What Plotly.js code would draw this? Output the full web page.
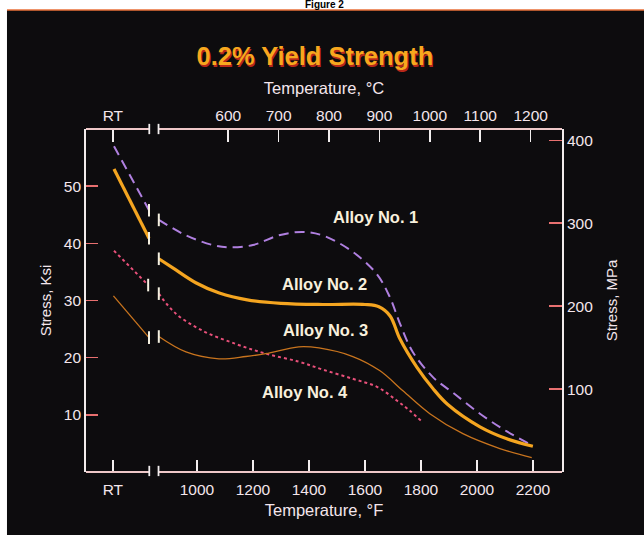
<!DOCTYPE html>
<html>
<head>
<meta charset="utf-8">
<script src="https://cdn.plot.ly/plotly-3.0.1.min.js"></script>
<style>html,body{margin:0;padding:0;background:#fff;}#chart{width:644px;height:535px;}</style>
</head>
<body>
<div id="chart"></div>
<script>
// ---- Data (temperature in °F, RT plotted at the "RT" tick; null = axis break) ----
const alloyNames = ["Alloy No. 1", "Alloy No. 2", "Alloy No. 3", "Alloy No. 4"];

const alloy1TempF = [704, 829, null, 864, 961, 1057, 1114, 1200, 1293, 1379, 1454, 1557, 1643, 1689, 1725, 1771, 1843, 1914, 2011, 2107, 2200];
const alloy1Ksi   = [57.0, 45.8, null, 44.1, 41.4, 39.7, 39.3, 39.7, 41.4, 42.0, 41.3, 38.5, 34.6, 30.6, 26.0, 21.0, 16.6, 13.9, 10.2, 7.1, 4.6];

const alloy2TempF = [704, 829, null, 864, 914, 996, 1080, 1180, 1300, 1450, 1600, 1650, 1690, 1725, 1786, 1843, 1896, 2011, 2107, 2200];
const alloy2Ksi   = [53.0, 40.9, null, 37.3, 35.7, 33.1, 31.3, 30.1, 29.5, 29.3, 29.3, 28.9, 27.3, 23.3, 18.3, 14.6, 11.8, 7.9, 5.8, 4.5];

const alloy3TempF = [704, 826, null, 864, 925, 1021, 1139, 1246, 1364, 1450, 1557, 1643, 1714, 1761, 1804];
const alloy3Ksi   = [38.7, 32.7, null, 31.2, 27.7, 24.7, 22.4, 20.7, 19.3, 17.9, 16.3, 14.9, 12.5, 10.7, 8.8];

const alloy4TempF = [702, 829, null, 864, 961, 1079, 1175, 1246, 1364, 1436, 1557, 1654, 1736, 1832, 1950, 2082, 2196];
const alloy4Ksi   = [30.8, 23.5, null, 23.7, 21.0, 19.8, 20.2, 20.7, 21.9, 21.7, 20.2, 17.7, 14.2, 10.2, 6.7, 4.1, 2.5];

// label anchor positions (°F, ksi)
const labelTempF = [1639, 1454, 1461, 1386];
const labelKsi   = [44.6, 32.9, 24.9, 14.0];

// ---- Axis ticks ----
const rtF = 700;
const fTickVals = [rtF, 1000, 1200, 1400, 1600, 1800, 2000, 2200];
const fTickText = ["RT", "1000", "1200", "1400", "1600", "1800", "2000", "2200"];
const cTickNums = [600, 700, 800, 900, 1000, 1100, 1200];
const ksiTicks = [10, 20, 30, 40, 50];
const mpaTicks = [100, 200, 300, 400];
const breakF = [830, 863];

const fRange = [604, 2304];
const ksiRange = [0, 60];
const toC = f => (f - 32) / 1.8;
const toMPa = k => k * 6.89476;

const cTickVals = [toC(rtF)].concat(cTickNums);
const cTickText = ["RT"].concat(cTickNums.map(String));

const styles = [
  {color: "#b080e0", width: 2, dash: "10px,6px"},
  {color: "#f4a520", width: 3.2, dash: "solid"},
  {color: "#e8507a", width: 2, dash: "dot"},
  {color: "#c8741e", width: 1.3, dash: "solid"}
];

const xs = [alloy1TempF, alloy2TempF, alloy3TempF, alloy4TempF];
const ys = [alloy1Ksi, alloy2Ksi, alloy3Ksi, alloy4Ksi];

const breakW = x => x.map((v, i) => (v !== null && (x[i + 1] === null || x[i - 1] === null)) ? 2 : 0);

const traces = xs.map((x, k) => ({
  type: "scatter",
  mode: "lines+markers",
  name: alloyNames[k],
  x: x, y: ys[k],
  connectgaps: false,
  line: {color: styles[k].color, width: styles[k].width, dash: styles[k].dash, shape: "spline", smoothing: 1},
  marker: {symbol: "line-ns", size: 9, color: "#f4f0e0",
           line: {color: "#f4f0e0", width: breakW(x)}},
  hoverinfo: "skip",
  showlegend: false
}));

// invisible trace binding the °C / MPa axes (same data, converted units)
traces.push({
  type: "scatter", mode: "lines",
  x: alloy1TempF.map(v => v === null ? null : toC(v)),
  y: alloy1Ksi.map(v => v === null ? null : toMPa(v)),
  xaxis: "x2", yaxis: "y2",
  line: {width: 0, color: "rgba(0,0,0,0)"},
  opacity: 0, hoverinfo: "skip", showlegend: false
});

const fam = "Liberation Sans, Arial, sans-serif";
const tickFont = {family: fam, size: 15.5, color: "#f4e6ec"};
const titleFont = {family: fam, size: 16.5, color: "#f4e6ec"};
const axLineColor = "#eec8c8";
const tickColor = "#f2eeee";

const annotations = alloyNames.map((n, k) => ({
  x: labelTempF[k], y: labelKsi[k], xref: "x", yref: "y",
  text: n, showarrow: false,
  font: {family: fam, size: 16.5, color: "#f8f0dc", weight: "bold"}
}));
annotations.push({
  xref: "paper", yref: "paper", x: 0.5, y: 1.343, xanchor: "center", yanchor: "bottom",
  text: "Figure 2", showarrow: false, borderpad: 0,
  font: {family: fam, size: 10, color: "#000", weight: "bold"}
});

const shapes = [
  // black panel
  {type: "rect", xref: "paper", yref: "paper", x0: -0.166, x1: 1.25, y0: -0.25, y1: 1.347,
   fillcolor: "#0d0c0e", line: {width: 0}, layer: "below"},
  {type: "line", xref: "paper", yref: "paper", x0: -0.166, x1: 1.25, y0: 1.347, y1: 1.347,
   line: {color: "#e8703a", width: 1.5}, layer: "below"},
  // broken x axis lines (bottom and top)
  {type: "line", xref: "x", yref: "paper", x0: fRange[0], x1: breakF[0], y0: 0, y1: 0, line: {color: axLineColor, width: 1.8}},
  {type: "line", xref: "x", yref: "paper", x0: breakF[1], x1: fRange[1], y0: 0, y1: 0, line: {color: axLineColor, width: 1.8}},
  {type: "line", xref: "x", yref: "paper", x0: fRange[0], x1: breakF[0], y0: 1, y1: 1, line: {color: axLineColor, width: 1.8}},
  {type: "line", xref: "x", yref: "paper", x0: breakF[1], x1: fRange[1], y0: 1, y1: 1, line: {color: axLineColor, width: 1.8}}
];
breakF.forEach(b => {
  shapes.push({type: "line", xref: "x", yref: "paper", x0: b, x1: b, y0: -0.012, y1: 0.018, line: {color: tickColor, width: 1.8}});
  shapes.push({type: "line", xref: "x", yref: "paper", x0: b, x1: b, y0: 0.985, y1: 1.015, line: {color: tickColor, width: 1.8}});
});

const layout = {
  width: 644, height: 535, autosize: false,
  margin: {l: 86, r: 82, t: 129, b: 63, pad: 0},
  paper_bgcolor: "#ffffff",
  plot_bgcolor: "#0d0c0e",
  title: {
    text: "0.2% Yield Strength",
    xref: "container", yref: "container", x: 0.489, y: 0.895, xanchor: "center", yanchor: "middle",
    font: {family: fam, size: 25.5, color: "#f7a81e", weight: "bold",
           shadow: "1px 2px 0px #b8281a"}
  },
  xaxis: {
    range: fRange, tickvals: fTickVals, ticktext: fTickText,
    ticks: "inside", ticklen: 12, tickwidth: 1.6, tickcolor: tickColor,
    showline: false, showgrid: false, zeroline: false,
    tickfont: tickFont, ticklabelstandoff: 6,
    title: {text: "Temperature, °F", font: titleFont, standoff: 7}
  },
  xaxis2: {
    overlaying: "x", side: "top", anchor: "y",
    range: fRange.map(toC), tickvals: cTickVals, ticktext: cTickText,
    ticks: "inside", ticklen: 13, tickwidth: 1.6, tickcolor: tickColor,
    showline: false, showgrid: false, zeroline: false,
    tickfont: tickFont, ticklabelstandoff: 4,
    title: {text: "Temperature, °C", font: titleFont, standoff: 8}
  },
  yaxis: {
    range: ksiRange, tickvals: ksiTicks,
    ticks: "inside", ticklen: 12, tickwidth: 1.6, tickcolor: "#e87070",
    showline: true, linecolor: "#f2ecec", linewidth: 1.8,
    showgrid: false, zeroline: false,
    tickfont: tickFont,
    title: {text: "Stress, Ksi", font: {family: fam, size: 15, color: "#f4e6ec"}, standoff: 8}
  },
  yaxis2: {
    overlaying: "y", side: "right", anchor: "x",
    range: ksiRange.map(toMPa), tickvals: mpaTicks,
    ticks: "inside", ticklen: 13, tickwidth: 1.6, tickcolor: "#e87070",
    showline: true, linecolor: "#f2ecec", linewidth: 1.8,
    showgrid: false, zeroline: false,
    tickfont: tickFont,
    title: {text: "Stress, MPa", font: {family: fam, size: 15, color: "#f4e6ec"}, standoff: 14}
  },
  shapes: shapes,
  annotations: annotations,
  showlegend: false
};

Plotly.newPlot("chart", traces, layout, {displayModeBar: false, staticPlot: true});
</script>
</body>
</html>
